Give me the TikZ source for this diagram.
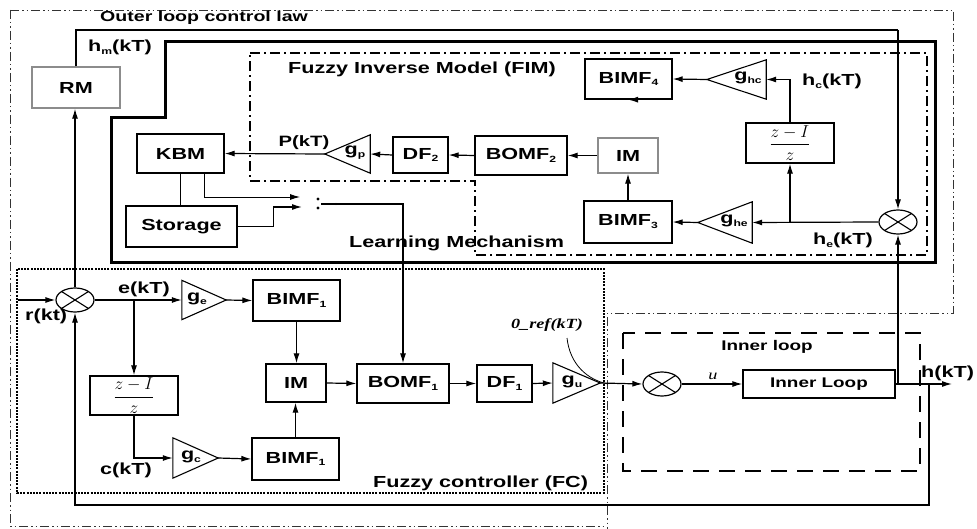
\documentclass[tikz,border=0pt]{standalone}
\usepackage{fontspec}
\setmainfont{Liberation Sans}
\newfontfamily\lab{Liberation Sans}[FakeStretch=1.35]
\newfontfamily\labit{Liberation Serif}[FakeStretch=1.3]
\usetikzlibrary{arrows.meta,shapes.geometric}
\newcommand\sbs[1]{\raisebox{-0.35ex}{\fontsize{9}{9}\selectfont #1}}
\tikzset{
  blk/.style={draw, line width=1.3pt, inner sep=0pt, font=\lab\bfseries\fontsize{16}{18}\selectfont},
  gblk/.style={blk, draw=black!45},
  txt/.style={inner sep=0pt, font=\lab\bfseries\fontsize{16}{18}\selectfont},
  tr/.style={inner sep=0pt, append after command={\pgfextra{\draw[line width=1.1pt] (\tikzlastnode.north west)--(\tikzlastnode.east)--(\tikzlastnode.south west)--cycle;}}},
  tl/.style={inner sep=0pt, append after command={\pgfextra{\draw[line width=1.1pt] (\tikzlastnode.north east)--(\tikzlastnode.west)--(\tikzlastnode.south east)--cycle;}}},
  sum/.style={ellipse, draw, line width=1.2pt, minimum width=38pt, minimum height=24pt, inner sep=0pt,
    path picture={\draw[line width=1.1pt] (path picture bounding box.north west)--(path picture bounding box.south east)
      (path picture bounding box.north east)--(path picture bounding box.south west);}},
  con/.style={line width=1.2pt, -{Latex[length=10pt,width=6pt]}},
  ln/.style={line width=1.2pt},
  outerb/.style={line width=0.9pt, black!80, dash pattern=on 9pt off 3pt on 1.5pt off 3pt on 1.5pt off 3pt},
  fimb/.style={line width=1.3pt, dash pattern=on 10pt off 4pt on 2pt off 4pt},
  fcb/.style={line width=1.3pt, dash pattern=on 2pt off 1.2pt},
  ilb/.style={line width=1.6pt, dash pattern=on 16pt off 10pt},
  frac/.style={font=\fontsize{17}{19}\selectfont},
}
\begin{document}
\begin{tikzpicture}[x=1pt,y=-1pt]
\useasboundingbox (0,0) rectangle (977,529);
\fill[white] (0,0) rectangle (977,529);

% enclosures
\draw[outerb] (10,10) -- (953,10) -- (953,313) -- (607,313) -- (607,529);
\draw[outerb] (10,10) -- (10,526) -- (607,526);
\draw[line width=3pt] (111,263) -- (111,118) -- (165,118) -- (165,42) -- (935,42) -- (935,263) -- cycle;
\draw[fimb] (250,53) -- (927,53) -- (927,255) -- (475,255) -- (475,181) -- (250,181) -- cycle;
\draw[fcb] (17,269) rectangle (604,493);
\draw[ilb] (623,333) rectangle (920,471);

% enclosure labels
\node[txt, font=\lab\bfseries\fontsize{14.5}{16}\selectfont, anchor=west] (lolc) at (100,18) {Outer loop control law};
\node[txt, anchor=west] (lfim) at (288,69) {Fuzzy Inverse Model (FIM)};
\node[txt, anchor=west] (llm) at (349,243) {Learning Mechanism};
\node[txt, anchor=west] (lfc) at (373,483) {Fuzzy controller (FC)};
\node[txt, font=\lab\bfseries\fontsize{14}{16}\selectfont] (lil) at (767,347) {Inner loop};

% blocks
\node[gblk, minimum width=88pt, minimum height=41pt] (RM) at (76,87.5) {RM};
\node[blk, minimum width=87pt, minimum height=39pt] (KBM) at (180.5,153.5) {KBM};
\node[blk, minimum width=111pt, minimum height=41pt] (ST) at (181.5,226.5) {Storage};
\node[blk, minimum width=55pt, minimum height=36pt] (DF2) at (420.5,155) {DF\sbs{2}};
\node[blk, minimum width=92pt, minimum height=39pt] (BOMF2) at (521,155.5) {BOMF\sbs{2}};
\node[gblk, minimum width=60pt, minimum height=35pt] (IM2) at (628,155.5) {IM};
\node[blk, minimum width=87pt, minimum height=40pt] (BIMF4) at (628.5,79) {BIMF\sbs{4}};
\node[blk, minimum width=88pt, minimum height=42pt] (BIMF3) at (628,222) {BIMF\sbs{3}};
\node[blk, minimum width=88pt, minimum height=40pt, frac] (Z2) at (790,143) {$\displaystyle\frac{z - I}{z}$};

\node[blk, minimum width=87pt, minimum height=41pt] (BIMF1a) at (296.5,300.5) {BIMF\sbs{1}};
\node[blk, minimum width=87pt, minimum height=42pt] (BIMF1b) at (295.5,459) {BIMF\sbs{1}};
\node[blk, minimum width=60pt, minimum height=38pt] (IM1) at (296,383) {IM};
\node[blk, minimum width=92pt, minimum height=39pt] (BOMF1) at (403,383.5) {BOMF\sbs{1}};
\node[blk, minimum width=55pt, minimum height=37pt] (DF1) at (504.5,383.5) {DF\sbs{1}};
\node[blk, minimum width=88pt, minimum height=39pt, frac] (Z1) at (134,395.5) {$\displaystyle\frac{z - I}{z}$};
\node[blk, minimum width=152pt, minimum height=28pt, font=\lab\bfseries\fontsize{14}{16}\selectfont] (IL) at (819,384) {Inner Loop};

% gains
\node[tr, minimum width=44pt, minimum height=39pt] (ge) at (204,300) {};
\node[txt] at (197,299) {g\sbs{e}};
\node[tr, minimum width=45pt, minimum height=40pt] (gc) at (195.5,458) {};
\node[txt] at (191,457) {g\sbs{c}};
\node[tr, minimum width=47pt, minimum height=40pt] (gu) at (576.5,383) {};
\node[txt] at (572,382) {g\sbs{u}};
\node[tl, minimum width=45pt, minimum height=38pt] (gp) at (347.5,154) {};
\node[txt] at (355,153) {g\sbs{p}};
\node[tl, minimum width=59pt, minimum height=39pt] (ghc) at (736.5,79.5) {};
\node[txt] at (748,78) {g\sbs{hc}};
\node[tl, minimum width=54pt, minimum height=41pt] (ghe) at (725,222.5) {};
\node[txt] at (734,221) {g\sbs{he}};

% summing junctions
\node[sum] (s1) at (75,300) {};
\node[sum] (s2) at (898,222) {};
\node[sum] (s3) at (662,384) {};

% signal labels
\node[txt, anchor=west] (lhm) at (88,47) {h\sbs{m}(kT)};
\node[txt, font=\lab\bfseries\fontsize{15}{17}\selectfont] (lp) at (304,143) {P(kT)};
\node[txt, anchor=west] (lhc) at (802,81) {h\sbs{c}(kT)};
\node[txt, anchor=west] (lhe) at (813,240) {h\sbs{e}(kT)};
\node[txt, anchor=west] (le) at (118,289) {e(kT)};
\node[txt, anchor=west] (lr) at (25,316) {r(kt)};
\node[txt, anchor=west] (lc) at (100,470) {c(kT)};
\node[txt, anchor=west] (lh) at (921,373) {h(kT)};
\node[inner sep=0pt, font=\labit\bfseries\itshape\fontsize{14}{16}\selectfont] (lref) at (547,325) {0\_ref(kT)};
\node[inner sep=0pt, font=\labit\itshape\fontsize{14}{16}\selectfont] (lu) at (713,376) {u};

% coordinates
\coordinate (hmtop) at (898,30);
\coordinate (rin) at (18,300);
\coordinate (eb) at (134,300);
\coordinate (hout) at (952,384);
\coordinate (tap1) at (898,384);
\coordinate (tap2) at (929,384);
\coordinate (fb) at (929,505);
\coordinate (heb) at (790,222);
\coordinate (sw1) at (300,197);
\coordinate (sw2) at (302,207);
\coordinate (swo) at (321,204);
\coordinate (refa) at (567,338);
\coordinate (refb) at (608,384);

% switch contacts
\fill (318,199) circle (1.6pt);
\fill (318,208) circle (1.6pt);
\fill (336,204) circle (1.2pt);

% connectors - outer loop / FC
\draw[con] (s1.north) -- (s1.north |- RM.south);
\draw[ln] (RM.north) |- (hmtop);
\draw[con] (hmtop) -- (s2.north);
\draw[con] (rin) -- (s1.west);
\draw[con] (s1.east) -- (ge.west);
\draw[con] (eb) -- (Z1.north);
\draw[con] (Z1.south) |- (gc.west);
\draw[con] (ge.east) -- (BIMF1a.west);
\draw[con] (gc.east) -- (BIMF1b.west);
\draw[con] (BIMF1a.south) -- (BIMF1a.south |- IM1.north);
\draw[con] (BIMF1b.north) -- (BIMF1b.north |- IM1.south);
\draw[con] (IM1.east) -- (BOMF1.west);
\draw[con] (BOMF1.east) -- (DF1.west);
\draw[con] (DF1.east) -- (gu.west);
\draw[con] (gu.east) -- (s3.west);
\draw[line width=0.8pt] (refa) .. controls (570,365) and (588,380) .. (refb);
\draw[con] (s3.east) -- (IL.west);
\draw[con] (IL.east) -- (hout);
\draw[con] (tap1) -- (s2.south);
\draw[con] (tap2) -- (fb) -| (s1.south);

% connectors - FIM
\draw[con] (s2.west) -- (ghe.east);
\draw[con] (heb) -- (Z2.south);
\draw[con] (Z2.north) |- (ghc.east);
\draw[con] (ghc.west) -- (BIMF4.east);
\draw[con] (ghe.west) -- (BIMF3.east);
\draw[con] (BIMF4.south) -- (BIMF4.south -| IM2.north);
\draw[con] (BIMF3.north) -- (IM2.south);
\draw[con] (IM2.west) -- (BOMF2.east);
\draw[con] (BOMF2.west) -- (DF2.east);
\draw[con] (DF2.west) -- (gp.east);
\draw[con] (gp.west) -- (KBM.east);

% learning mechanism
\draw[ln] (KBM.south) -- (KBM.south |- ST.north);
\draw[line width=0.9pt, -{Latex[length=10pt,width=6pt]}] ([xshift=24pt]KBM.south) |- (sw1);
\draw[con] (ST.east) -- ++(36,0) |- (sw2);
\draw[con] (swo) -| (BOMF1.north);
\end{tikzpicture}
\end{document}
